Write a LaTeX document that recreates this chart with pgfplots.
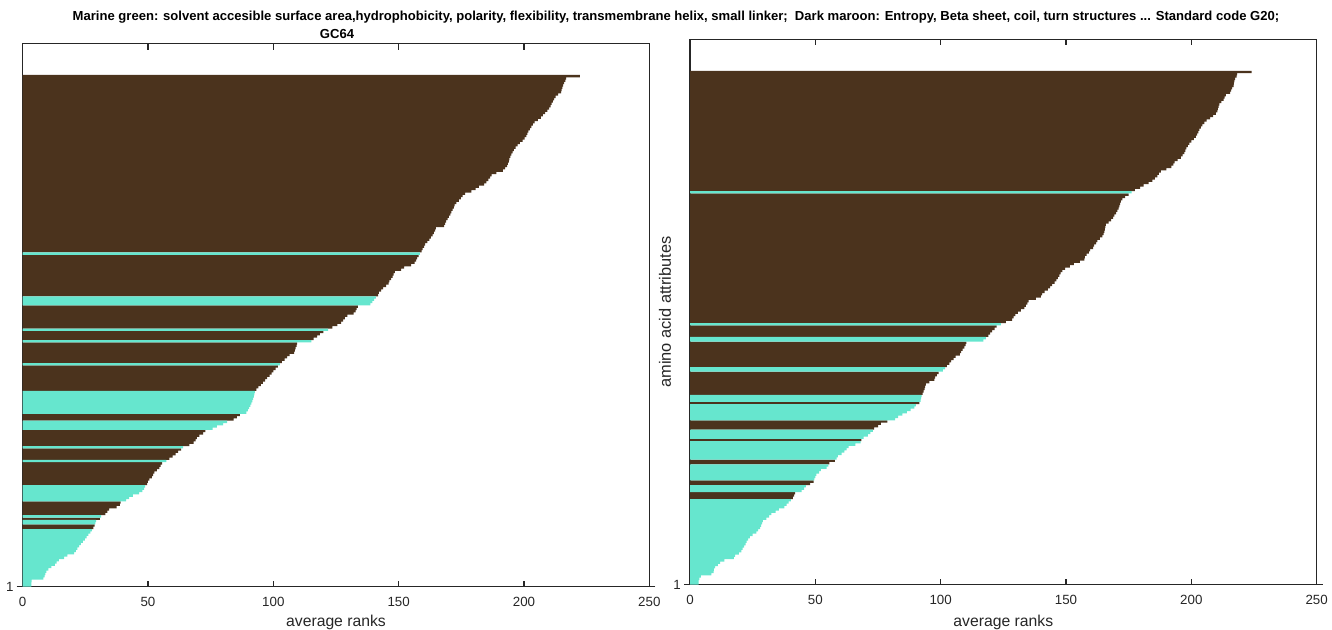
\documentclass[border=0pt]{standalone}
\usepackage{fontspec}
\setmainfont{Liberation Sans}
\usepackage{pgfplots}
\usepackage{pgfplotstable}
\pgfplotsset{compat=1.18}

\definecolor{maroonbar}{RGB}{75,51,29}
\definecolor{marinebar}{RGB}{102,230,206}
\definecolor{axisgray}{RGB}{38,38,38}

% sorted average ranks of the attributes; one value per row,
% placed in the column of its group (marine green or dark maroon)
\pgfplotstableread{
i cyan maroon
1 3.5 nan
2 3.5 nan
3 3.6 nan
4 8.3 nan
5 8.8 nan
6 9.1 nan
7 9.5 nan
8 10.3 nan
9 11.5 nan
10 12.8 nan
11 13.5 nan
12 14.4 nan
13 16.5 nan
14 17.8 nan
15 20.5 nan
16 21.2 nan
17 21.8 nan
18 22.5 nan
19 23.2 nan
20 24.0 nan
21 24.8 nan
22 25.5 nan
23 26.2 nan
24 27.0 nan
25 27.6 nan
26 nan 28.2
27 nan 28.7
28 29.0 nan
29 29.3 nan
30 nan 30.8
31 31.3 nan
32 nan 33.0
33 nan 33.8
34 nan 34.5
35 nan 37.5
36 nan 38.8
37 nan 39.1
38 41.3 nan
39 42.5 nan
40 44.0 nan
41 46.5 nan
42 47.8 nan
43 48.5 nan
44 48.9 nan
45 nan 49.7
46 nan 49.9
47 nan 50.5
48 nan 51.5
49 nan 52.0
50 nan 52.5
51 nan 53.5
52 nan 54.5
53 nan 55.0
54 nan 55.6
55 57.3 nan
56 nan 58.5
57 nan 59.8
58 nan 61.0
59 nan 62.0
60 nan 63.2
61 64.0 nan
62 nan 66.5
63 nan 68.2
64 nan 69.0
65 nan 69.5
66 nan 70.5
67 nan 72.0
68 nan 72.9
69 75.8 nan
70 77.5 nan
71 80.0 nan
72 81.6 nan
73 nan 84.2
74 nan 85.5
75 nan 86.7
76 89.2 nan
77 89.8 nan
78 90.3 nan
79 90.8 nan
80 91.2 nan
81 91.6 nan
82 91.9 nan
83 92.2 nan
84 92.4 nan
85 92.6 nan
86 nan 93.2
87 nan 94.0
88 nan 95.0
89 nan 95.8
90 nan 96.7
91 nan 97.5
92 nan 98.5
93 nan 99.3
94 nan 100.0
95 nan 100.9
96 nan 101.8
97 102.6 nan
98 nan 103.4
99 nan 104.5
100 nan 105.5
101 nan 106.5
102 nan 108.3
103 nan 108.6
104 nan 108.9
105 nan 109.3
106 nan 109.5
107 115.2 nan
108 nan 116.1
109 nan 117.5
110 nan 118.6
111 nan 120.0
112 121.9 nan
113 nan 123.6
114 nan 125.5
115 nan 127.0
116 nan 127.8
117 nan 128.5
118 nan 129.5
119 nan 132.0
120 nan 132.8
121 nan 133.2
122 nan 133.7
123 138.7 nan
124 139.5 nan
125 140.2 nan
126 140.9 nan
127 nan 141.8
128 nan 142.1
129 nan 143.0
130 nan 143.8
131 nan 145.0
132 nan 146.0
133 nan 146.3
134 nan 147.0
135 nan 147.6
136 nan 148.0
137 nan 148.5
138 nan 151.0
139 nan 152.2
140 nan 155.0
141 nan 156.4
142 nan 157.0
143 nan 157.4
144 nan 158.0
145 158.5 nan
146 nan 159.2
147 nan 159.6
148 nan 160.2
149 nan 160.6
150 nan 161.5
151 nan 162.2
152 nan 162.8
153 nan 163.5
154 nan 164.0
155 nan 164.5
156 nan 164.8
157 nan 168.1
158 nan 168.5
159 nan 168.9
160 nan 169.5
161 nan 170.0
162 nan 170.6
163 nan 171.0
164 nan 171.5
165 nan 172.0
166 nan 172.3
167 nan 173.0
168 nan 174.0
169 nan 174.8
170 nan 175.5
171 nan 176.5
172 nan 179.0
173 nan 180.7
174 nan 182.0
175 nan 184.1
176 nan 185.0
177 nan 185.8
178 nan 186.5
179 nan 187.1
180 nan 189.0
181 nan 191.6
182 nan 192.5
183 nan 193.3
184 nan 193.6
185 nan 194.0
186 nan 194.2
187 nan 194.6
188 nan 195.0
189 nan 195.5
190 nan 196.0
191 nan 196.7
192 nan 197.5
193 nan 198.4
194 nan 199.5
195 nan 200.2
196 nan 200.9
197 nan 201.3
198 nan 201.7
199 nan 202.3
200 nan 202.9
201 nan 203.5
202 nan 204.2
203 nan 205.5
204 nan 206.7
205 nan 207.5
206 nan 208.4
207 nan 209.3
208 nan 210.0
209 nan 210.6
210 nan 211.0
211 nan 211.5
212 nan 212.0
213 nan 212.6
214 nan 213.6
215 nan 214.8
216 nan 215.0
217 nan 215.3
218 nan 215.6
219 nan 216.0
220 nan 216.5
221 nan 216.8
222 nan 222.3
}\ranksGC

\pgfplotstableread{
i cyan maroon
1 3.4 nan
2 3.4 nan
3 3.7 nan
4 4.3 nan
5 8.5 nan
6 9.4 nan
7 9.5 nan
8 10.0 nan
9 11.1 nan
10 12.0 nan
11 13.7 nan
12 17.5 nan
13 18.0 nan
14 19.5 nan
15 20.5 nan
16 21.0 nan
17 21.6 nan
18 22.2 nan
19 22.6 nan
20 23.2 nan
21 23.9 nan
22 25.0 nan
23 26.5 nan
24 27.2 nan
25 28.0 nan
26 28.4 nan
27 28.8 nan
28 29.1 nan
29 30.5 nan
30 31.6 nan
31 32.5 nan
32 34.2 nan
33 35.5 nan
34 37.6 nan
35 38.5 nan
36 39.3 nan
37 40.2 nan
38 nan 41.0
39 nan 41.5
40 nan 41.9
41 44.5 nan
42 45.5 nan
43 46.2 nan
44 nan 47.9
45 nan 49.3
46 49.6 nan
47 50.0 nan
48 50.4 nan
49 51.5 nan
50 52.2 nan
51 54.5 nan
52 55.2 nan
53 nan 55.6
54 nan 57.8
55 58.5 nan
56 59.0 nan
57 60.5 nan
58 61.6 nan
59 62.5 nan
60 63.3 nan
61 66.0 nan
62 68.1 nan
63 nan 68.4
64 69.3 nan
65 71.0 nan
66 72.0 nan
67 73.0 nan
68 nan 73.5
69 nan 75.0
70 nan 76.1
71 nan 78.7
72 81.8 nan
73 83.0 nan
74 84.7 nan
75 86.5 nan
76 88.0 nan
77 89.5 nan
78 90.1 nan
79 nan 91.5
80 92.0 nan
81 92.2 nan
82 92.4 nan
83 nan 92.8
84 nan 93.2
85 nan 93.6
86 nan 93.8
87 nan 94.1
88 nan 95.5
89 nan 97.5
90 nan 97.8
91 nan 98.5
92 nan 99.2
93 100.9 nan
94 101.8 nan
95 nan 102.5
96 nan 103.5
97 nan 104.2
98 nan 105.2
99 nan 106.0
100 nan 107.7
101 nan 108.2
102 nan 108.8
103 nan 109.5
104 nan 110.0
105 nan 110.3
106 117.0 nan
107 118.0 nan
108 nan 119.0
109 nan 119.7
110 nan 120.5
111 nan 121.5
112 nan 122.3
113 124.0 nan
114 nan 126.0
115 nan 128.5
116 nan 129.1
117 nan 129.8
118 nan 130.8
119 nan 132.0
120 nan 133.4
121 nan 134.0
122 nan 134.6
123 nan 135.1
124 nan 138.0
125 nan 140.0
126 nan 140.5
127 nan 141.5
128 nan 142.8
129 nan 143.7
130 nan 144.5
131 nan 145.5
132 nan 146.2
133 nan 146.8
134 nan 147.4
135 nan 147.9
136 nan 148.6
137 nan 149.6
138 nan 151.5
139 nan 153.1
140 nan 155.5
141 nan 157.3
142 nan 157.5
143 nan 158.2
144 nan 159.1
145 nan 159.6
146 nan 160.8
147 nan 161.2
148 nan 162.0
149 nan 162.5
150 nan 163.5
151 nan 164.5
152 nan 165.0
153 nan 165.3
154 nan 165.5
155 nan 165.7
156 nan 165.9
157 nan 167.0
158 nan 168.0
159 nan 168.8
160 nan 169.3
161 nan 170.0
162 nan 170.5
163 nan 171.0
164 nan 171.3
165 nan 171.6
166 nan 171.9
167 nan 172.5
168 nan 173.6
169 nan 175.0
170 176.2 nan
171 nan 177.5
172 nan 179.6
173 nan 181.0
174 nan 183.0
175 nan 184.5
176 nan 185.5
177 nan 186.4
178 nan 187.0
179 nan 187.8
180 nan 190.0
181 nan 192.0
182 nan 192.8
183 nan 193.3
184 nan 194.5
185 nan 195.8
186 nan 196.5
187 nan 197.2
188 nan 197.6
189 nan 198.0
190 nan 198.6
191 nan 199.2
192 nan 200.0
193 nan 201.0
194 nan 201.8
195 nan 202.3
196 nan 202.8
197 nan 203.2
198 nan 203.8
199 nan 204.4
200 nan 205.2
201 nan 206.1
202 nan 207.5
203 nan 208.7
204 nan 209.8
205 nan 210.4
206 nan 210.6
207 nan 210.9
208 nan 211.2
209 nan 212.0
210 nan 212.9
211 nan 213.3
212 nan 213.8
213 nan 215.5
214 nan 215.9
215 nan 216.3
216 nan 216.9
217 nan 217.0
218 nan 217.2
219 nan 217.5
220 nan 218.1
221 nan 218.3
222 nan 224.0
}\ranksStd

\pgfplotsset{
  rankaxis/.style={
    scale only axis,
    width=470pt,
    anchor=south west,
    xmin=0, xmax=250,
    ymin=0.5, ymax=236.1,
    xtick={0,50,...,250},
    ytick={0.5}, yticklabels={1},
    tick align=inside,
    major tick length=4.5pt,
    axis line style={axisgray, line width=0.8pt},
    every tick/.style={axisgray, line width=0.8pt},
    tick label style={font=\fontsize{10}{12}\selectfont, text=axisgray},
    /pgf/number format/assume math mode=true,
    xticklabel style={yshift=-4.7pt},
    yticklabel style={xshift=1.2pt},
    xlabel={average ranks},
    xlabel style={font=\fontsize{11.8}{13}\selectfont, text=axisgray,
      at={(axis description cs:0.5,0)}, anchor=center},
    xbar, bar width=1, bar shift=0,
  },
  marinebars/.style={xbar, fill=marinebar, draw=none},
  maroonbars/.style={xbar, fill=maroonbar, draw=none},
}

\begin{document}
\begin{tikzpicture}
\path[use as bounding box] (0,0) rectangle (999pt,472.5pt);

% GC64
\begin{axis}[rankaxis, at={(17pt,32.5pt)}, height=407.25pt,
  xlabel style={yshift=-26.5pt}]
\addplot[maroonbars] table[x=maroon, y=i] {\ranksGC};
\addplot[marinebars] table[x=cyan, y=i] {\ranksGC};
\end{axis}

% Standard code G20
\begin{axis}[rankaxis, at={(517.5pt,34pt)}, height=409pt,
  xlabel style={yshift=-28pt},
  ylabel={amino acid attributes},
  ylabel style={font=\fontsize{12.3}{14}\selectfont, text=axisgray,
    at={(axis description cs:-0.0399,0.5)}, anchor=center}]
\addplot[maroonbars] table[x=maroon, y=i] {\ranksStd};
\addplot[marinebars] table[x=cyan, y=i] {\ranksStd};
\end{axis}

\node[font=\bfseries\fontsize{9.8}{11}\selectfont, anchor=center] at (507pt,459.75pt)
  {Marine green: solvent accesible surface area,hydrophobicity, polarity, flexibility, transmembrane helix, small linker;\ \ Dark maroon: Entropy, Beta sheet, coil, turn structures ... Standard code G20;};
\node[font=\bfseries\fontsize{9.8}{11}\selectfont, anchor=center] at (252.75pt,447pt) {GC64};
\end{tikzpicture}
\end{document}
